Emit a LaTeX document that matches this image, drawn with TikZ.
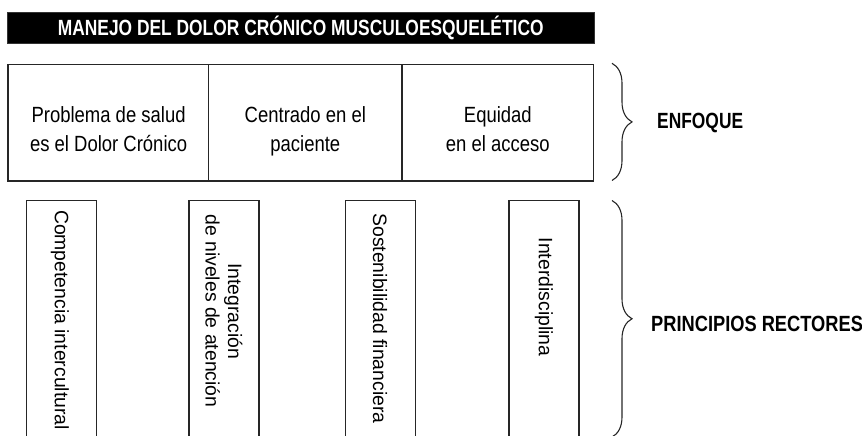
\documentclass[tikz,border=0pt]{standalone}
\usepackage{fontspec}
\setmainfont{Liberation Sans}
\newfontfamily\condreg[FakeStretch=0.84]{Liberation Sans}
\newfontfamily\condbold[FakeStretch=0.79]{Liberation Sans Bold}
\newfontfamily\condboldw[FakeStretch=0.83]{Liberation Sans Bold}
\usetikzlibrary{decorations.pathreplacing}
\begin{document}
\begin{tikzpicture}[x=1pt,y=-1pt,
  boxline/.style={draw=black!85,line width=1.2pt},
  topcell/.style={boxline,rectangle,inner sep=0pt,minimum height=116.7pt},
  celltext/.style={inner sep=0pt,font=\condreg\fontsize{22}{29}\selectfont,align=center},
  pillar/.style={boxline,rectangle,inner sep=0pt,minimum width=70pt,minimum height=260pt},
  vtext/.style={rotate=-90,inner sep=0pt,font=\fontsize{19.4}{22.5}\selectfont,align=center},
  headlabel/.style={inner sep=0pt,font=\condbold\fontsize{22}{26}\selectfont},
  bracestyle/.style={draw=black!85,line width=1.1pt,decorate,decoration={brace,amplitude=20pt}}
]
\useasboundingbox (0,0) rectangle (862,436);
\clip (0,0) rectangle (862,436);
% title bar
\node[fill=black,draw=black!80,line width=0.8pt,inner sep=0pt,minimum width=586.5pt,minimum height=31pt,
  text=white,font=\condbold\fontsize{22}{26}\selectfont] (title) at (300.75,27.5)
  {MANEJO DEL DOLOR CRÓNICO MUSCULOESQUELÉTICO};
% top row
\node[topcell,minimum width=200.7pt] (c1) at (108.35,122.65) {};
\node[topcell,minimum width=193.3pt] (c2) at (305.35,122.65) {};
\node[topcell,minimum width=191.7pt] (c3) at (497.85,122.65) {};
\node[celltext] (c1t) at (108.6,131.2) {\strut Problema de salud\\\strut es el Dolor Crónico};
\node[celltext] (c2t) at (305.35,131.2) {\strut Centrado en el\\\strut paciente};
\node[celltext] (c3t) at (497.85,131.2) {\strut Equidad\\\strut en el acceso};
% pillars
\node[pillar] (p1) at (61.5,330.7) {};
\node[pillar] (p2) at (224,330.7) {};
\node[pillar] (p3) at (380.5,330.7) {};
\node[pillar] (p4) at (544,330.7) {};
\node[vtext] (t1) at (60,320) {Competencia intercultural};
\node[vtext] (t2) at (224,311) {Integración\\de niveles de atención};
\node[vtext] (t3) at (380,318.5) {Sostenibilidad financiera};
\node[vtext] (t4) at (544,297) {Interdisciplina};
% braces
\coordinate (b1a) at (612,63.3);
\coordinate (b1b) at (612,180.5);
\coordinate (b2a) at (612,200.5);
\coordinate (b2b) at (612,437);
\draw[bracestyle] (b1a) -- (b1b);
\draw[bracestyle] (b2a) -- (b2b);
\node[headlabel,anchor=base west] (enf) at (657,128) {ENFOQUE};
\node[headlabel,anchor=base west,font=\condboldw\fontsize{22}{26}\selectfont] (pri) at (651,331) {PRINCIPIOS RECTORES};
\end{tikzpicture}
\end{document}
